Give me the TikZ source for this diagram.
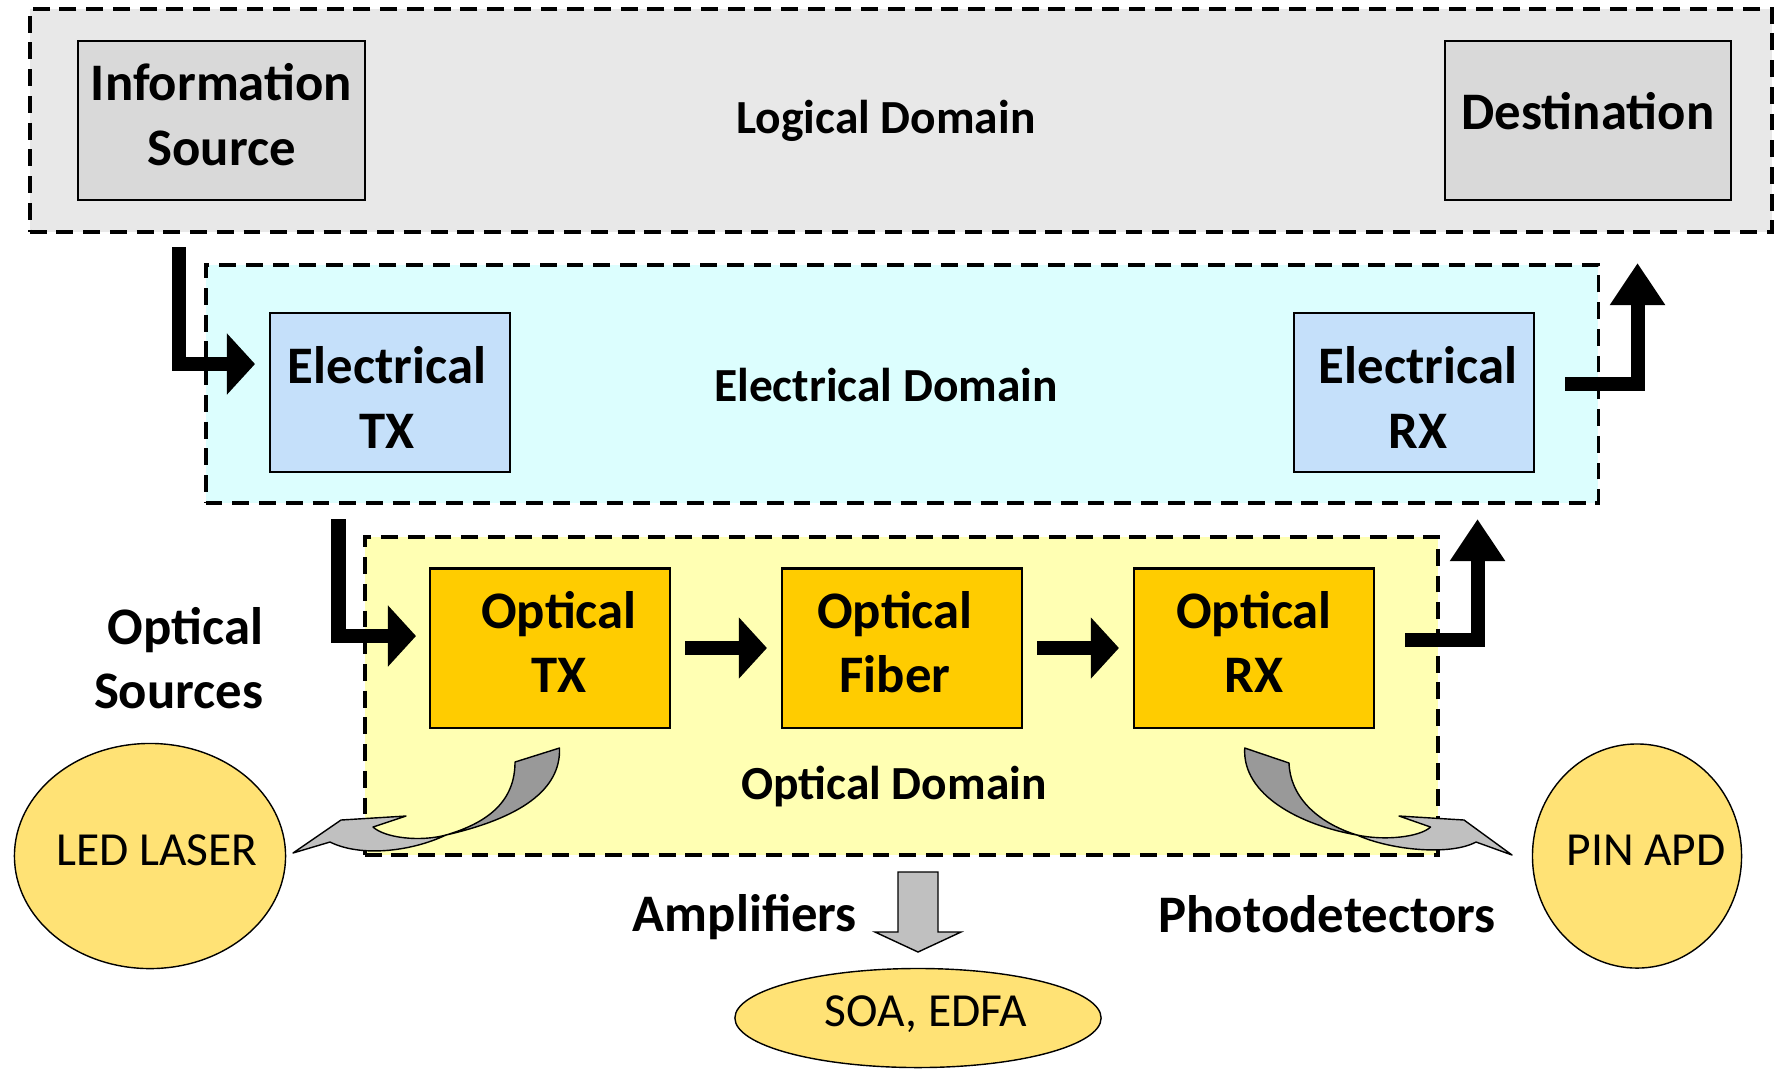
\documentclass[tikz,border=0pt]{standalone}
\usepackage{fontspec}
\setmainfont{Carlito}
\usetikzlibrary{arrows.meta,shapes.geometric}
\definecolor{logicfill}{HTML}{E8E8E8}
\definecolor{elecfill}{HTML}{DCFEFE}
\definecolor{optfill}{HTML}{FFFFB3}
\definecolor{srcfill}{HTML}{D9D9D9}
\definecolor{elecbox}{HTML}{C5E0FA}
\definecolor{optbox}{HTML}{FFCC00}
\definecolor{devfill}{HTML}{FFE275}
\definecolor{bandlight}{HTML}{C0C0C0}
\definecolor{banddark}{HTML}{999999}
\begin{document}
\begin{tikzpicture}[x=0.01cm,y=-0.01cm,
  zone/.style = {rectangle,draw=black,line width=1.1pt,dash pattern=on 4.8pt off 2.8pt,inner sep=0mm,outer sep=0mm},
  zonetext/.style = {font=\fontsize{13.5}{16}\selectfont\bfseries},
  unit/.style = {rectangle,draw=black,semithick,inner sep=0mm,outer sep=0mm,minimum width=2.4cm,minimum height=1.59cm},
  unittext/.style = {align=center,inner sep=0mm,font=\fontsize{15}{18.3}\selectfont\bfseries},
  device/.style = {ellipse,draw=black,thin,fill=devfill,inner sep=0mm},
  devtext/.style = {inner sep=0mm,font=\fontsize{13.5}{16}\selectfont},
  sidetext/.style = {align=right,inner sep=0mm,font=\fontsize{15}{18.3}\selectfont\bfseries},
  flow/.style = {line width=4pt,line join=miter,-{Triangle[length=8pt,width=17pt]}},
  rise/.style = {line width=4pt,line join=miter,-{Triangle[length=12pt,width=15pt]}},
  band/.style = {draw=black,thin,line join=round}]
\useasboundingbox (0,0) rectangle (1774,1069);

% domains
\node[zone,fill=logicfill,minimum width=17.415cm,minimum height=2.23cm] (logical) at (901,120.5) {};
\node[zone,fill=elecfill,minimum width=13.92cm,minimum height=2.38cm] (electrical) at (902,384) {};
\node[zone,fill=optfill,minimum width=10.73cm,minimum height=3.18cm] (optical) at (901.5,696) {};
\node[zonetext] (logtxt) at (886,121) {Logical Domain};
\node[zonetext] (eltxt) at (886,385) {Electrical Domain};
\node[zonetext] (optxt) at (894,787) {Optical Domain};

% blocks
\node[unit,fill=srcfill,minimum width=2.87cm] (source) at (221.5,120.5) {};
\node[unit,fill=srcfill,minimum width=2.86cm] (dest) at (1588,120.5) {};
\node[unit,fill=elecbox] (etx) at (390,392.5) {};
\node[unit,fill=elecbox] (erx) at (1414,392.5) {};
\node[unit,fill=optbox] (otx) at (550,648) {};
\node[unit,fill=optbox] (fiber) at (902,648) {};
\node[unit,fill=optbox] (orx) at (1254,648) {};
\node[unittext] (sourcetxt) at ([shift={(0,-6)}]source) {Information\\Source};
\node[unittext] (desttxt) at ([shift={(0,-9)}]dest) {Destination};
\node[unittext] (etxtxt) at ([shift={(-3,5)}]etx) {Electrical\\TX};
\node[unittext] (erxtxt) at ([shift={(4,5)}]erx) {Electrical\\RX};
\node[unittext] (otxtxt) at ([shift={(9,-6)}]otx) {Optical\\TX};
\node[unittext] (fibertxt) at ([shift={(-7,-6)}]fiber) {Optical\\Fiber};
\node[unittext] (orxtxt) at ([shift={(0,-6)}]orx) {Optical\\RX};

% components
\node[device,minimum width=2.71cm,minimum height=2.25cm] (led) at (150,856) {};
\node[device,minimum width=2.09cm,minimum height=2.24cm] (pin) at (1637,856) {};
\node[device,minimum width=3.66cm,minimum height=0.99cm] (soa) at (918,1018) {};
\node[devtext] (ledtxt) at ([shift={(7,-6)}]led) {LED LASER};
\node[devtext] (pintxt) at ([shift={(9,-6)}]pin) {PIN APD};
\node[devtext] (soatxt) at ([shift={(8,-4)}]soa) {SOA, EDFA};
\node[sidetext,anchor=east] (srctxt) at (264,658) {Optical\\Sources};
\node[sidetext] (amptxt) at (745,917) {Amplifiers};
\node[sidetext] (pdtxt) at (1327,914) {Photodetectors};

% bent arrows
\coordinate (a1s) at (179,247);  \coordinate (a1e) at (255,364);
\coordinate (a2s) at (338.5,519); \coordinate (a2e) at (416,636);
\coordinate (a3s) at (1405,640); \coordinate (a3e) at (1477.5,519);
\coordinate (a4s) at (1565,384); \coordinate (a4e) at (1637.5,263);
\draw[flow] (a1s) |- (a1e);
\draw[flow] (a2s) |- (a2e);
\draw[rise] (a3s) -| (a3e);
\draw[rise] (a4s) -| (a4e);
\draw[flow,shorten <=0.15cm,shorten >=0.15cm] (otx) -- (fiber);
\draw[flow,shorten <=0.15cm,shorten >=0.15cm] (fiber) -- (orx);

% curved arrows
\draw[band,fill=banddark] (515,762) -- (559.5,748) .. controls (561,790) and (520,818) .. (446,835)
  .. controls (490,822) and (515,800) .. (515,762) -- cycle;
\draw[band,fill=bandlight] (446,835) .. controls (410,852) and (360,857) .. (330,842) -- (293,853)
  -- (341,820) -- (406,816) -- (373,827) .. controls (385,838) and (420,842) .. (446,835) -- cycle;
\draw[band,fill=banddark] (1244.7,748) -- (1289,763) .. controls (1290,795) and (1315,822) .. (1357,835)
  .. controls (1300,825) and (1242,795) .. (1244.7,748) -- cycle;
\draw[band,fill=bandlight] (1357,835) .. controls (1390,850) and (1450,856) .. (1476,842) -- (1512,855)
  -- (1464,820) -- (1399,816) -- (1430.5,827) .. controls (1420,837) and (1385,841) .. (1357,835) -- cycle;
\draw[band,fill=bandlight,line join=miter] (898,872) -- (938,872) -- (938,932) -- (961,932) -- (918,952)
  -- (875,932) -- (898,932) -- cycle;
\end{tikzpicture}
\end{document}
